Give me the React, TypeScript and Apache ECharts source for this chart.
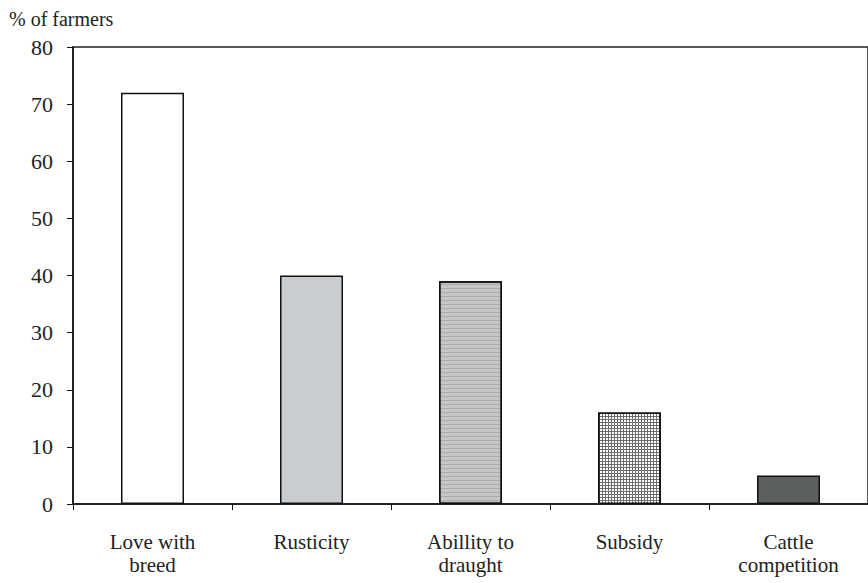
import React, { useEffect, useRef } from "react";
import * as echarts from "echarts";

const categories = ["Love with\nbreed", "Rusticity", "Abillity to\ndraught", "Subsidy", "Cattle\ncompetition"];
const values = [72, 40, 39, 16, 5];
const yTicks = { min: 0, max: 80, interval: 10 };
const yTitle = "% of farmers";

const FONT = "'Liberation Serif', 'DejaVu Serif', serif";

export default function App() {
  const ref = useRef<HTMLDivElement>(null);
  useEffect(() => {
    document.body.style.margin = "0";
    const chart = echarts.init(ref.current!, null, { renderer: "svg" });
    const styles = [
      { color: "#ffffff" },
      { color: "#c9cdd1" },
      {
        color: "#c4c6c8",
        decal: { symbol: "rect", color: "rgba(120,120,120,0.35)", dashArrayX: [1, 0], dashArrayY: [1, 3], symbolSize: 1, rotation: 0 },
      },
      {
        color: "#6e6e6e",
        decal: { symbol: "rect", color: "#ffffff", dashArrayX: [2, 1], dashArrayY: [2, 1], symbolSize: 1, rotation: 0 },
      },
      { color: "#5b605d" },
    ];
    const data = values.map((v, i) => ({
      value: v,
      itemStyle: { ...styles[i], borderColor: "#111", borderWidth: 1.5 },
    }));
    chart.setOption({
      animation: false,
      backgroundColor: "#ffffff",
      grid: { left: 73, top: 47, width: 798, height: 457, show: true, borderColor: "#222", borderWidth: 1.5, backgroundColor: "transparent" },
      title: {
        text: yTitle,
        left: 9,
        top: 9,
        padding: 0,
        textStyle: { fontFamily: FONT, fontSize: 20, fontWeight: "normal", color: "#222" },
      },
      xAxis: {
        type: "category",
        data: categories,
        axisLine: { lineStyle: { color: "#111", width: 1.5 } },
        axisTick: { show: true, length: 6, lineStyle: { color: "#111" }, alignWithLabel: false },
        axisLabel: { fontFamily: FONT, fontSize: 21, color: "#222", margin: 26, lineHeight: 23 },
        splitLine: { show: false },
      },
      yAxis: {
        type: "value",
        min: yTicks.min,
        max: yTicks.max,
        interval: yTicks.interval,
        axisLine: { show: true, lineStyle: { color: "#111", width: 1.5 } },
        axisTick: { show: true, length: 6, lineStyle: { color: "#111" } },
        axisLabel: { fontFamily: FONT, fontSize: 22, color: "#222", margin: 20 },
        splitLine: { show: false },
      },
      series: [
        {
          type: "bar",
          data,
          barWidth: 63,
        },
      ],
    });
    return () => chart.dispose();
  }, []);
  return <div ref={ref} style={{ width: 868, height: 583 }} />;
}
